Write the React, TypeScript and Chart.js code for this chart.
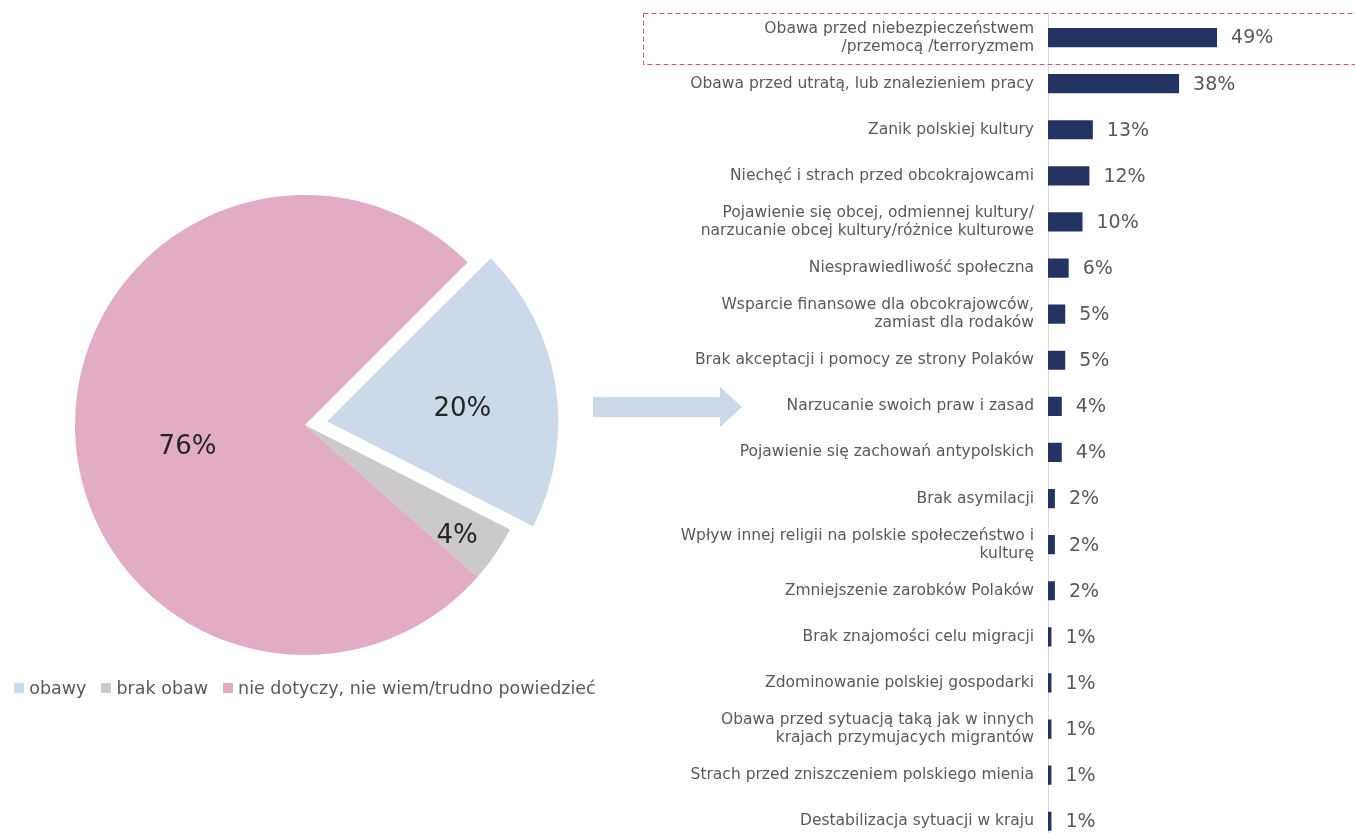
import { useEffect, useRef } from "react";
import { Chart, registerables } from "chart.js";

Chart.register(...registerables);

const FONT = '"DejaVu Sans", sans-serif';

// Pie data
const pieLabels = ["obawy", "brak obaw", "nie dotyczy, nie wiem/trudno powiedzieć"];
const pieValues = [20, 4, 76];
const pieColors = ["#cbd9e8", "#cbc9ca", "#e1acc4"];
// Chart.js translates an arc by offset/4
const pieOffsets = [90, 0, 0];
// label placement (fraction of radius, angle shift in degrees)
const pieLabelRadius = [0.59, 0.82, 0.52];
const pieLabelShift = [4, 2, -9];

// Bar data
const barLabels: (string | string[])[] = [
  ["Obawa przed niebezpieczeństwem", "/przemocą /terroryzmem"],
  "Obawa przed utratą, lub znalezieniem pracy",
  "Zanik polskiej kultury",
  "Niechęć i strach przed obcokrajowcami",
  ["Pojawienie się obcej, odmiennej kultury/", "narzucanie obcej kultury/różnice kulturowe"],
  "Niesprawiedliwość społeczna",
  ["Wsparcie finansowe dla obcokrajowców,", "zamiast dla rodaków"],
  "Brak akceptacji i pomocy ze strony Polaków",
  "Narzucanie swoich praw i zasad",
  "Pojawienie się zachowań antypolskich",
  "Brak asymilacji",
  ["Wpływ innej religii na polskie społeczeństwo i", "kulturę"],
  "Zmniejszenie zarobków Polaków",
  "Brak znajomości celu migracji",
  "Zdominowanie polskiej gospodarki",
  ["Obawa przed sytuacją taką jak w innych", "krajach przymujacych migrantów"],
  "Strach przed zniszczeniem polskiego mienia",
  "Destabilizacja sytuacji w kraju",
];
const barValues = [49, 38, 13, 12, 10, 6, 5, 5, 4, 4, 2, 2, 2, 1, 1, 1, 1, 1];
const barColor = "#243462";

const pieLabelPlugin = {
  id: "pieLabels",
  afterDatasetsDraw(chart: any) {
    const { ctx } = chart;
    const meta = chart.getDatasetMeta(0);
    ctx.save();
    ctx.font = `26px ${FONT}`;
    ctx.fillStyle = "#262626";
    ctx.textAlign = "center";
    ctx.textBaseline = "middle";
    meta.data.forEach((arc: any, i: number) => {
      const p = arc.getProps(["x", "y", "startAngle", "endAngle", "outerRadius"], true);
      const mid = (p.startAngle + p.endAngle) / 2;
      const off = pieOffsets[i] / 4;
      const ax = p.x + Math.cos(mid) * off;
      const ay = p.y + Math.sin(mid) * off;
      const a = mid + (pieLabelShift[i] * Math.PI) / 180;
      const r = p.outerRadius * pieLabelRadius[i];
      ctx.fillText(pieValues[i] + "%", ax + Math.cos(a) * r, ay + Math.sin(a) * r);
    });
    ctx.restore();
  },
};

const pieLegendPlugin = {
  id: "pieLegend",
  afterDraw(chart: any) {
    const { ctx } = chart;
    ctx.save();
    ctx.font = `17.5px ${FONT}`;
    ctx.textBaseline = "middle";
    ctx.textAlign = "left";
    const box = 10;
    const gap = 5;
    const itemGap = 15;
    const widths = pieLabels.map((t) => ctx.measureText(t).width);
    const total =
      widths.reduce((s, w) => s + w + box + gap, 0) + itemGap * (pieLabels.length - 1);
    const cx = (chart.chartArea.left + chart.chartArea.right) / 2;
    let x = cx - total / 2;
    const y = 688;
    pieLabels.forEach((t, i) => {
      ctx.fillStyle = pieColors[i];
      ctx.fillRect(Math.round(x), Math.round(y - box / 2), box, box);
      ctx.fillStyle = "#595959";
      ctx.fillText(t, x + box + gap, y + 1);
      x += box + gap + widths[i] + itemGap;
    });
    ctx.restore();
  },
};

const barLabelPlugin = {
  id: "barValueLabels",
  afterDatasetsDraw(chart: any) {
    const { ctx } = chart;
    const meta = chart.getDatasetMeta(0);
    ctx.save();
    ctx.font = `19px ${FONT}`;
    ctx.fillStyle = "#595959";
    ctx.textAlign = "left";
    ctx.textBaseline = "middle";
    meta.data.forEach((bar: any, i: number) => {
      ctx.fillText(barValues[i] + "%", bar.x + 14, bar.y + 1);
    });
    // dashed highlight box around first item
    const first = meta.data[0];
    const yScale = chart.scales.y;
    const step = yScale.height / barLabels.length;
    ctx.strokeStyle = "#c9577a";
    ctx.lineWidth = 1;
    ctx.setLineDash([5, 3]);
    ctx.strokeRect(3.5, Math.round(first.y - step * 0.53) + 0.5, chart.width + 20, Math.round(step * 1.1));
    ctx.restore();
  },
};

export default function App() {
  const pieRef = useRef<HTMLCanvasElement | null>(null);
  const barRef = useRef<HTMLCanvasElement | null>(null);

  useEffect(() => {
    Chart.defaults.font.family = FONT;
    const pie = new Chart(pieRef.current as HTMLCanvasElement, {
      type: "pie",
      data: {
        labels: pieLabels,
        datasets: [
          {
            data: pieValues,
            backgroundColor: pieColors,
            borderWidth: 0,
            offset: pieOffsets,
          },
        ],
      },
      options: {
        responsive: false,
        animation: false,
        rotation: 45,
        layout: { padding: { top: 150, bottom: 10, left: 0, right: 0 } },
        plugins: {
          legend: { display: false },
          tooltip: { enabled: false },
        },
      },
      plugins: [pieLabelPlugin, pieLegendPlugin],
    } as any);

    const bar = new Chart(barRef.current as HTMLCanvasElement, {
      type: "bar",
      data: {
        labels: barLabels,
        datasets: [
          {
            data: barValues,
            backgroundColor: barColor,
            borderWidth: 0,
            categoryPercentage: 0.8,
            barPercentage: 0.52,
          },
        ],
      },
      options: {
        indexAxis: "y",
        responsive: false,
        animation: false,
        layout: { padding: { top: 14.5, bottom: 5.7, left: 0, right: 31 } },
        plugins: { legend: { display: false }, tooltip: { enabled: false } },
        scales: {
          x: { min: 0, max: 80, display: false },
          y: {
            grid: { display: false, drawTicks: false },
            border: { display: true, color: "#d9d9d9", width: 1 },
            ticks: {
              autoSkip: false,
              padding: 14,
              color: "#595959",
              font: { size: 15.5, family: FONT, lineHeight: 1.16 },
            },
            afterFit(scale: any) {
              scale.width = 408;
              scale.paddingTop = 0;
              scale.paddingBottom = 0;
            },
          },
        },
      },
      plugins: [barLabelPlugin],
    } as any);

    return () => {
      pie.destroy();
      bar.destroy();
    };
  }, []);

  return (
    <div
      style={{
        position: "absolute",
        left: 0,
        top: 0,
        width: 1355,
        height: 833,
        overflow: "hidden",
        background: "#ffffff",
      }}
    >
      <canvas ref={pieRef} width={610} height={710} style={{ position: "absolute", left: 0, top: 0 }} />
      <svg width={160} height={50} style={{ position: "absolute", left: 590, top: 383 }}>
        <polygon points="3,14 130,14 130,4 152,24 130,44 130,34 3,34" fill="#cbd9e8" />
      </svg>
      <canvas ref={barRef} width={715} height={850} style={{ position: "absolute", left: 640, top: 0 }} />
    </div>
  );
}
